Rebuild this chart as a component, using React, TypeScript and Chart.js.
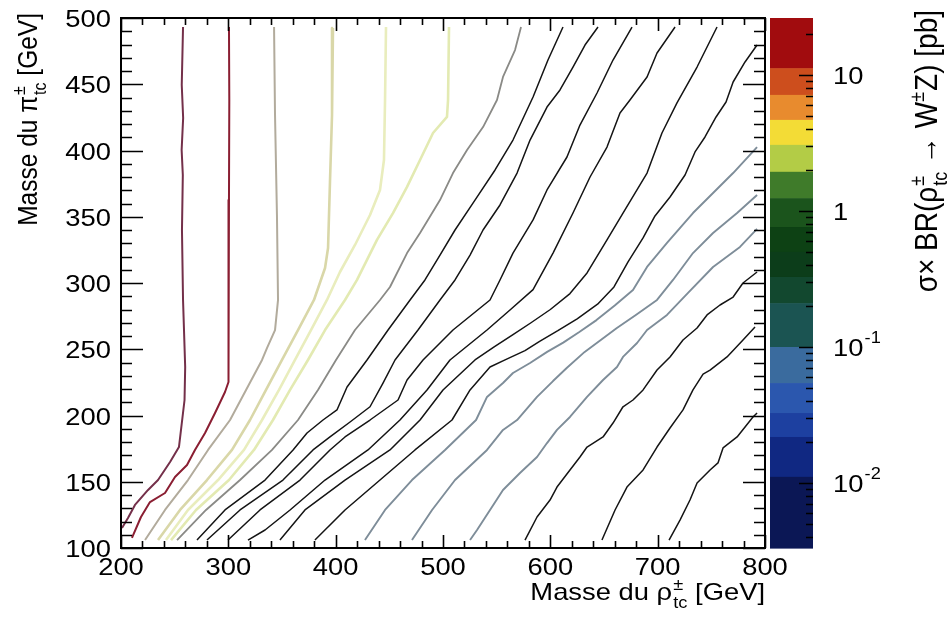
import React, { useEffect, useRef } from 'react';
import { Chart, registerables } from 'chart.js';

Chart.register(...registerables);

// ---------- axes ----------
const xRange = [200, 800];
const yRange = [100, 500];
const xTicks = [200, 300, 400, 500, 600, 700, 800];
const yTicks = [100, 150, 200, 250, 300, 350, 400, 450, 500];
const xMinorStep = 20;
const yMinorStep = 10;

// ---------- colour bar (sigma x BR, pb, log) ----------
const cbRange = [0.00333, 26.2];
const cbTickValues = [0.01, 0.1, 1, 10];
const cbTickBases = ['10', '10', '1', '10'];
const cbTickExponents = ['-2', '-1', '', ''];
const bandEdges = [26.2, 11.2, 7.13, 4.67, 3.06, 1.94, 1.24, 0.762, 0.5, 0.327, 0.21, 0.1, 0.0543, 0.0327, 0.0218, 0.0111, 0.00333];
const bandColors = ['#a10c0e', '#cd4e1d', '#e88b2e', '#f3dc36', '#b3cc46', '#3f7b2a', '#1b541c', '#0d4114', '#0c3d1a', '#12482f', '#1b5452', '#3a6b9e', '#2b57ae', '#1d40a0', '#102882', '#0b1755'];

// ---------- contour lines [m_rho, m_pi] ----------
const contour01 = [[257.8, 493.2], [256.6, 449.4], [257.9, 424.5], [256.5, 400.4], [257.6, 381.5], [256.8, 340.0], [257.8, 287.2], [259.8, 236.6], [259.2, 211.7], [254.0, 176.2], [245.7, 164.9], [234.5, 151.3], [225.2, 143.8], [213.0, 132.5], [206.5, 122.6], [200.9, 115.1]];
const contour02 = [[300.6, 493.2], [300.9, 438.1], [300.6, 362.6], [300.6, 287.2], [299.7, 225.3], [296.9, 217.7], [287.6, 201.9], [278.3, 186.8], [268.9, 174.0], [261.5, 162.6], [250.3, 153.6], [241.0, 141.5], [227.0, 134.7], [218.6, 123.4], [210.2, 107.6]];
const contour03 = [[342.6, 493.2], [343.5, 426.8], [345.3, 351.3], [346.3, 287.2], [343.5, 264.5], [336.0, 250.9], [331.4, 241.9], [316.5, 219.3], [301.6, 196.6], [281.1, 174.0], [262.4, 151.3], [241.0, 128.7], [222.4, 106.0]];
const contour04 = [[397.5, 492.5], [396.6, 426.8], [394.7, 376.2], [392.9, 326.4], [390.1, 311.3], [379.8, 287.2], [364.9, 264.5], [350.0, 241.9], [335.1, 219.3], [320.2, 196.6], [303.4, 174.0], [280.1, 151.3], [255.0, 128.7], [234.5, 106.0]];
const contour05 = [[446.9, 493.2], [446.0, 438.1], [445.0, 392.8], [441.3, 370.2], [432.0, 351.3], [418.0, 328.7], [404.0, 308.3], [391.9, 287.2], [377.0, 264.5], [362.1, 241.9], [347.2, 219.3], [331.4, 196.6], [314.6, 174.0], [290.4, 151.3], [262.4, 128.7], [241.9, 106.0]];
const contour06 = [[505.6, 493.2], [504.7, 438.1], [503.7, 425.3], [490.7, 413.2], [478.6, 392.8], [466.5, 372.5], [453.4, 352.8], [438.5, 332.5], [429.2, 317.4], [419.9, 302.3], [408.7, 287.2], [390.1, 264.5], [374.2, 241.9], [357.5, 219.3], [341.6, 196.6], [323.9, 174.0], [300.6, 151.3], [269.9, 128.7], [246.6, 106.0]];
const contour07 = [[572.7, 493.2], [567.1, 475.8], [555.9, 455.5], [550.3, 438.1], [537.3, 417.7], [522.4, 400.4], [509.3, 383.0], [497.2, 362.6], [478.6, 337.7], [466.5, 322.6], [450.6, 297.0], [441.3, 287.2], [418.0, 264.5], [400.3, 241.9], [383.5, 219.3], [364.9, 196.6], [340.7, 174.0], [310.9, 151.3], [279.2, 128.7], [252.2, 106.0]];
const contour08 = [[611.8, 493.2], [597.8, 468.3], [583.9, 440.4], [565.2, 407.9], [548.5, 385.3], [529.8, 362.6], [511.2, 340.0], [497.2, 321.1], [483.2, 302.3], [469.3, 287.2], [448.8, 264.5], [429.2, 241.9], [410.6, 221.5], [401.2, 204.2], [388.2, 196.6], [373.3, 186.8], [360.3, 174.0], [334.2, 151.3], [296.9, 128.7], [270.8, 106.0]];
const contour09 = [[644.4, 493.2], [632.3, 479.6], [621.1, 463.0], [609.0, 445.7], [596.9, 432.8], [581.1, 407.9], [569.0, 383.0], [553.1, 358.9], [537.3, 340.0], [525.2, 321.1], [511.2, 302.3], [497.2, 287.2], [476.7, 264.5], [455.3, 241.9], [444.1, 224.5], [432.0, 206.6], [413.4, 195.1], [394.7, 183.8], [378.9, 174.0], [350.9, 151.3], [310.9, 128.7], [280.1, 106.0]];
const contour10 = [[676.1, 493.2], [658.4, 468.3], [643.5, 443.4], [627.6, 419.2], [615.5, 395.1], [596.9, 370.2], [583.9, 347.6], [565.2, 322.6], [553.1, 302.3], [543.8, 287.2], [509.3, 264.5], [481.4, 241.9], [466.5, 226.8], [458.1, 211.7], [432.0, 196.6], [408.7, 183.8], [394.7, 174.0], [366.8, 151.3], [329.5, 128.7], [299.7, 106.0]];
const contour11 = [[716.2, 493.2], [699.4, 473.6], [690.1, 455.5], [674.2, 438.1], [664.9, 428.3], [652.8, 402.6], [637.0, 380.0], [621.1, 352.8], [602.5, 322.6], [583.9, 295.0], [562.4, 279.6], [541.0, 264.5], [506.5, 241.9], [485.1, 219.3], [459.9, 196.6], [430.1, 174.0], [390.1, 151.3], [357.5, 128.7], [334.2, 113.6], [318.3, 106.0]];
const contour12 = [[755.3, 493.2], [736.7, 463.0], [718.0, 435.9], [704.0, 413.2], [690.1, 383.0], [667.7, 352.8], [652.8, 332.5], [634.2, 307.6], [618.3, 292.0], [600.0, 280.0], [582.0, 270.0], [565.2, 261.0], [548.0, 252.0], [529.8, 241.9], [500.0, 219.3], [478.6, 196.6], [450.6, 174.0], [408.7, 151.3], [371.4, 128.7], [348.1, 106.0]];
const contour13 = [[792.6, 479.6], [781.4, 466.8], [770.3, 451.7], [763.7, 436.6], [754.4, 425.3], [744.1, 410.2], [734.8, 398.9], [725.5, 381.5], [711.5, 364.9], [697.5, 350.6], [686.4, 334.0], [672.4, 315.9], [659.3, 297.0], [644.0, 284.0], [625.0, 273.0], [607.0, 264.0], [590.0, 256.0], [576.4, 249.0], [557.8, 242.0], [543.8, 236.6], [525.2, 219.3], [508.4, 196.6], [473.9, 174.0], [441.3, 151.3], [408.7, 128.7], [380.7, 106.0]];
const contour14 = [[792.6, 402.6], [770.3, 383.0], [751.6, 367.9], [732.9, 352.8], [708.7, 330.2], [690.1, 312.1], [677.0, 294.7], [660.0, 283.0], [643.0, 272.0], [627.0, 263.0], [612.0, 255.0], [597.0, 248.0], [581.1, 239.6], [565.2, 232.1], [555.9, 224.5], [541.0, 214.0], [530.8, 196.6], [501.9, 174.0], [471.1, 151.3], [446.0, 128.7], [427.3, 106.0]];
const contour15 = [[792.6, 366.4], [774.0, 352.8], [751.6, 337.7], [732.9, 322.6], [714.3, 302.3], [699.4, 287.2], [680.0, 276.0], [662.0, 266.0], [647.0, 257.0], [632.0, 248.0], [615.5, 236.0], [602.5, 226.0], [587.6, 214.0], [569.0, 196.6], [555.9, 189.1], [541.0, 174.0], [511.2, 151.3], [489.8, 128.7], [471.1, 106.0]];
const contour16 = [[792.6, 340.8], [776.7, 327.2], [751.6, 312.1], [728.3, 292.5], [708.7, 275.9], [690.1, 264.5], [680.8, 254.7], [667.7, 244.2], [662.1, 236.6], [649.1, 226.8], [634.2, 214.0], [618.3, 198.9], [606.2, 189.1], [596.9, 179.2], [587.6, 168.7], [571.7, 156.6], [555.9, 143.8], [543.8, 128.7], [531.7, 113.6], [525.2, 106.0]];
const contour17 = [[792.6, 308.3], [779.5, 300.0], [770.3, 289.4], [758.1, 283.4], [746.0, 275.9], [736.7, 266.0], [723.6, 257.0], [711.5, 244.2], [699.4, 234.3], [686.4, 219.3], [677.0, 211.7], [667.7, 206.6], [658.4, 194.3], [649.1, 183.8], [634.2, 176.2], [627.6, 168.7], [618.3, 158.9], [606.2, 146.0], [599.7, 136.2], [587.6, 123.4], [576.4, 106.0]];
const contour18 = [[790.7, 266.8], [779.5, 257.0], [764.6, 244.2], [748.8, 234.3], [742.3, 231.3], [732.9, 219.3], [723.6, 204.2], [711.5, 190.6], [699.4, 176.2], [686.4, 158.9], [671.4, 146.0], [660.3, 128.7], [648.1, 106.0]];
const contour19 = [[792.6, 201.9], [788.8, 198.9], [774.0, 183.8], [760.9, 175.5], [756.2, 164.2], [748.8, 158.9], [736.7, 149.1], [730.1, 136.2], [720.8, 121.1], [710.6, 106.0]];

const contours = [contour01, contour02, contour03, contour04, contour05, contour06, contour07, contour08, contour09, contour10, contour11, contour12, contour13, contour14, contour15, contour16, contour17, contour18, contour19];
const contourColors = ['#74304a', '#8a1e32', '#b2ab9c', '#d9d7a8', '#e9edbd', '#e3eab2', '#8a8a86', '#141414', '#141414', '#141414', '#141414', '#141414', '#141414', '#7e8d99', '#7e8d99', '#7e8d99', '#141414', '#141414', '#141414'];
const contourWidths = [2, 2, 2, 2.6, 2.6, 2.6, 1.8, 1.5, 1.5, 1.5, 1.5, 1.5, 1.5, 1.9, 1.9, 1.9, 1.5, 1.5, 1.5];

// ---------- text ----------
type Seg = [string, string, string?];
const xTitle: Seg[] = [['n', 'Masse du ρ'], ['ss', '±', 'tc'], ['n', ' [GeV]']];
const yTitle: Seg[] = [['n', 'Masse du π'], ['ss', '±', 'tc'], ['n', ' [GeV]']];
const cbTitle: Seg[] = [['n', 'σ× BR(ρ'], ['ss', '±', 'tc'], ['n', ' → W'], ['sup', '±'], ['n', 'Z) [pb]']];

const FONT = '"Liberation Sans", Arial, Helvetica, sans-serif';
const SX = 1.14;
const font = (s: number) => `${s}px ${FONT}`;

function richWidth(ctx: CanvasRenderingContext2D, segs: Seg[], size: number, small: number) {
  let w = 0;
  for (const s of segs) {
    if (s[0] === 'n') { ctx.font = font(size); w += ctx.measureText(s[1]).width; }
    else if (s[0] === 'sup') { ctx.font = font(small); w += ctx.measureText(s[1]).width + 1; }
    else { ctx.font = font(small); w += Math.max(ctx.measureText(s[1]).width, ctx.measureText(s[2] || '').width) + 1; }
  }
  return w;
}

function drawRich(ctx: CanvasRenderingContext2D, segs: Seg[], x0: number, size: number, small: number) {
  let x = x0;
  ctx.textAlign = 'left';
  ctx.textBaseline = 'alphabetic';
  for (const s of segs) {
    if (s[0] === 'n') {
      ctx.font = font(size);
      ctx.fillText(s[1], x, 0);
      x += ctx.measureText(s[1]).width;
    } else if (s[0] === 'sup') {
      ctx.font = font(small);
      ctx.fillText(s[1], x, -size * 0.42);
      x += ctx.measureText(s[1]).width + 1;
    } else {
      ctx.font = font(small);
      ctx.fillText(s[1], x + 1, -size * 0.42);
      ctx.fillText(s[2] || '', x + 1, size * 0.32);
      x += Math.max(ctx.measureText(s[1]).width, ctx.measureText(s[2] || '').width) + 1;
    }
  }
}

function stretchText(ctx: CanvasRenderingContext2D, str: string, x: number, y: number, align: CanvasTextAlign, size: number) {
  ctx.save();
  ctx.translate(x, y);
  ctx.scale(SX, 1);
  ctx.font = font(size);
  ctx.textAlign = align;
  ctx.textBaseline = 'alphabetic';
  ctx.fillText(str, 0, 0);
  ctx.restore();
}

const decorPlugin = {
  id: 'decor',
  afterDraw(chart: any) {
    const { ctx, chartArea: a } = chart;
    const xs = chart.scales.x;
    const ys = chart.scales.y;
    const cb = chart.scales.cb;
    ctx.save();
    ctx.fillStyle = '#000';
    ctx.strokeStyle = '#000';

    // frame
    ctx.lineWidth = 2;
    ctx.strokeRect(a.left, a.top, a.right - a.left, a.bottom - a.top);

    // ticks (inside frame, all four sides)
    ctx.lineWidth = 1.6;
    ctx.beginPath();
    for (let v = xRange[0]; v <= xRange[1] + 1e-6; v += xMinorStep) {
      const major = Math.abs(v % 100) < 1e-6;
      const len = major ? 13 : 7;
      const p = Math.round(xs.getPixelForValue(v)) + 0.5;
      ctx.moveTo(p, a.bottom); ctx.lineTo(p, a.bottom - len);
      ctx.moveTo(p, a.top); ctx.lineTo(p, a.top + len);
    }
    for (let v = yRange[0]; v <= yRange[1] + 1e-6; v += yMinorStep) {
      const major = Math.abs(v % 50) < 1e-6;
      const len = major ? 22 : 11;
      const p = Math.round(ys.getPixelForValue(v)) + 0.5;
      ctx.moveTo(a.left, p); ctx.lineTo(a.left + len, p);
      ctx.moveTo(a.right, p); ctx.lineTo(a.right - len, p);
    }
    ctx.stroke();

    // tick labels
    xTicks.forEach((v) => stretchText(ctx, String(v), xs.getPixelForValue(v), a.bottom + 27, 'center', 24));
    yTicks.forEach((v) => stretchText(ctx, String(v), a.left - 10, ys.getPixelForValue(v) + 9, 'right', 24));

    // colour bar
    const bx0 = cb.left + 5;
    const bx1 = cb.left + 48;
    for (let i = 0; i < bandColors.length; i++) {
      const t = cb.getPixelForValue(bandEdges[i]);
      const b = cb.getPixelForValue(bandEdges[i + 1]);
      ctx.fillStyle = bandColors[i];
      ctx.fillRect(bx0, t, bx1 - bx0, b - t + 0.6);
    }
    ctx.strokeStyle = '#000';
    ctx.lineWidth = 1.5;
    ctx.beginPath();
    for (let d = -3; d <= 1; d++) {
      for (let k = 1; k <= 9; k++) {
        const v = k * Math.pow(10, d);
        if (v < cbRange[0] || v > cbRange[1]) continue;
        const p = Math.round(cb.getPixelForValue(v)) + 0.5;
        const len = k === 1 ? 14 : 7;
        ctx.moveTo(bx1, p); ctx.lineTo(bx1 - len, p);
      }
    }
    ctx.stroke();
    ctx.fillStyle = '#000';
    cbTickValues.forEach((v, i) => {
      const p = cb.getPixelForValue(v);
      const lx = cb.left + 68;
      ctx.save();
      ctx.translate(lx, p + 9);
      ctx.scale(SX, 1);
      ctx.font = font(24);
      ctx.textAlign = 'left';
      ctx.fillText(cbTickBases[i], 0, 0);
      const w = ctx.measureText(cbTickBases[i]).width;
      if (cbTickExponents[i]) {
        ctx.font = font(16);
        ctx.fillText(cbTickExponents[i], w + 1, -13);
      }
      ctx.restore();
    });

    // x title
    ctx.save();
    ctx.translate(a.right, a.bottom + 52);
    ctx.scale(SX, 1);
    const wx = richWidth(ctx, xTitle, 24, 16);
    drawRich(ctx, xTitle, -wx, 24, 16);
    ctx.restore();

    // y title
    ctx.save();
    ctx.translate(37, a.top - 5);
    ctx.rotate(-Math.PI / 2);
    ctx.scale(1, SX);
    const wy = richWidth(ctx, yTitle, 24.5, 16);
    drawRich(ctx, yTitle, -wy, 24.5, 16);
    ctx.restore();

    // colour bar title
    ctx.save();
    ctx.translate(cb.left + 172, a.top - 8);
    ctx.rotate(-Math.PI / 2);
    ctx.scale(1, SX);
    const wc = richWidth(ctx, cbTitle, 28, 18);
    drawRich(ctx, cbTitle, -wc, 28, 18);
    ctx.restore();

    ctx.restore();
  },
};

export default function App() {
  const ref = useRef<HTMLCanvasElement | null>(null);
  useEffect(() => {
    document.body.style.margin = '0';
    document.body.style.background = '#ffffff';
    const canvas = ref.current;
    if (!canvas) return;
    const chart = new Chart(canvas, {
      type: 'scatter',
      data: {
        datasets: contours.map((c, i) => ({
          label: `contour ${i + 1}`,
          data: c.map(([x, y]) => ({ x, y })),
          showLine: true,
          borderColor: contourColors[i],
          backgroundColor: contourColors[i],
          borderWidth: contourWidths[i],
          borderJoinStyle: 'round',
          pointRadius: 0,
          pointHoverRadius: 0,
          tension: 0,
          fill: false,
        })),
      },
      options: {
        animation: false,
        responsive: false,
        events: [],
        layout: { padding: { top: 18, left: 0, right: 0, bottom: 0 } },
        plugins: { legend: { display: false }, tooltip: { enabled: false }, title: { display: false } },
        scales: {
          x: {
            type: 'linear', position: 'bottom', min: xRange[0], max: xRange[1],
            grid: { display: false, drawTicks: false }, border: { display: false },
            ticks: { display: false, stepSize: 100 },
            afterFit: (s: any) => { s.height = 74; },
          },
          y: {
            type: 'linear', position: 'left', min: yRange[0], max: yRange[1],
            grid: { display: false, drawTicks: false }, border: { display: false },
            ticks: { display: false, stepSize: 50 },
            afterFit: (s: any) => { s.width = 121; },
          },
          cb: {
            type: 'logarithmic', position: 'right', min: cbRange[0], max: cbRange[1],
            grid: { display: false, drawTicks: false }, border: { display: false },
            ticks: { display: false },
            afterFit: (s: any) => { s.width = 183; },
          },
        },
      },
      plugins: [decorPlugin],
    } as any);
    return () => chart.destroy();
  }, []);
  return <canvas ref={ref} width={948} height={622} style={{ display: 'block' }} />;
}
